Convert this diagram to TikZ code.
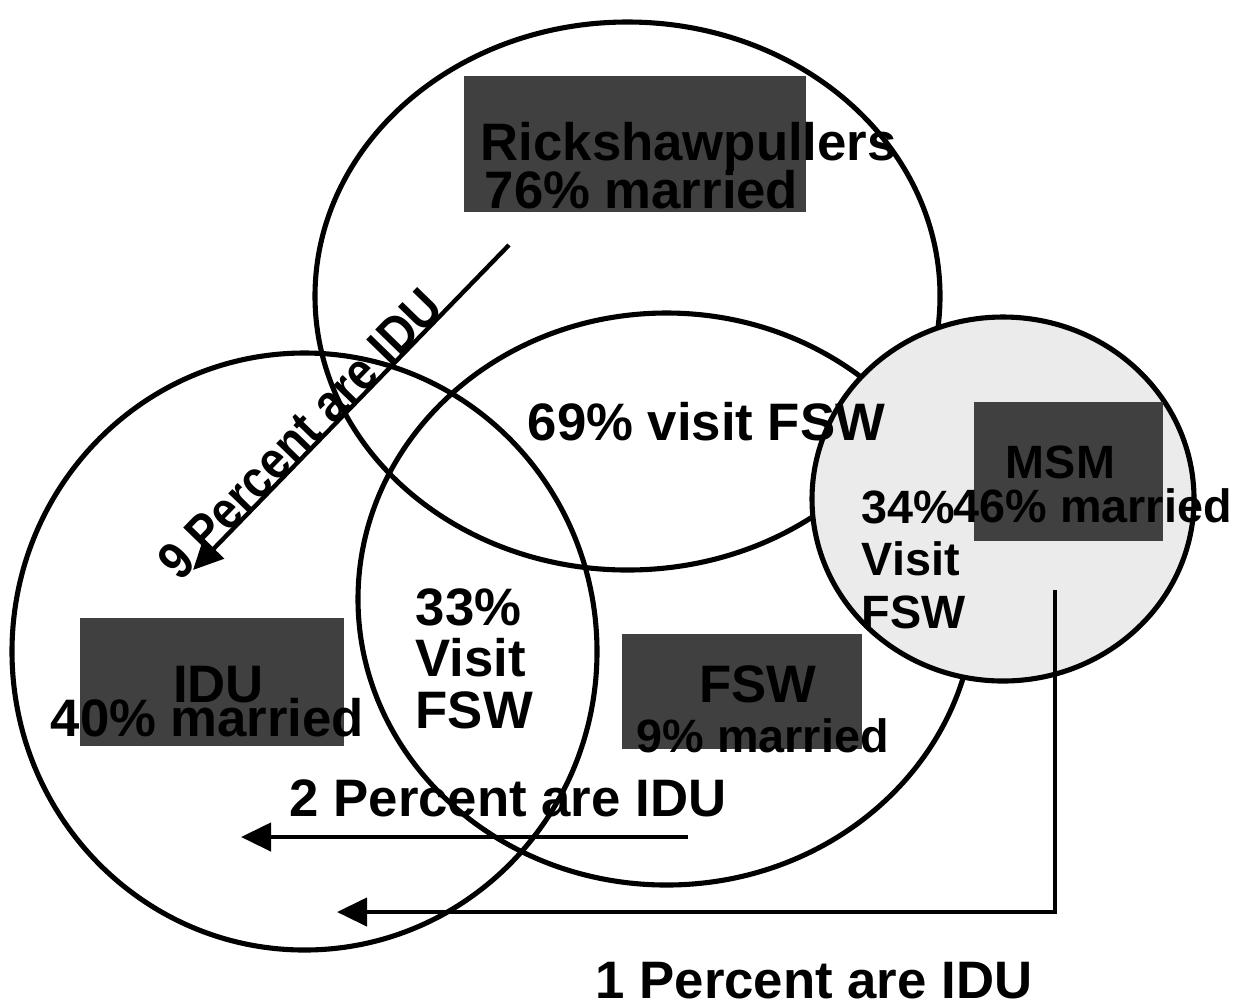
\documentclass[tikz,border=0pt]{standalone}
\usepackage{fontspec}
\setmainfont{Liberation Sans}
\usetikzlibrary{arrows.meta}
\definecolor{BoxGray}{HTML}{404040}
\definecolor{MsmGray}{HTML}{EBEBEB}

\begin{document}
\begin{tikzpicture}[>={Triangle[length=3mm,width=2.8mm]}]
    \tikzstyle{ring}=[draw,line width=1.45pt]
    \tikzstyle{box}=[fill=BoxGray,inner sep=0pt]
    \tikzstyle{txt}=[inner sep=0pt,font=\bfseries\fontsize{15}{14.6}\selectfont]
    \tikzstyle{small}=[inner sep=0pt,font=\bfseries\fontsize{13.3}{14.9}\selectfont]
    \tikzstyle{arr}=[->,line width=1.25pt]
    \useasboundingbox (0,0) rectangle (12.45,-10.04);
    % the four groups
    \draw[ring] (6.275,-2.96) ellipse (3.125 and 2.74);
    \draw[ring] (6.665,-5.99) ellipse (3.085 and 2.86);
    \draw[ring] (3.045,-6.515) ellipse (2.925 and 2.985);
    \draw[ring,fill=MsmGray] (10.03,-4.99) ellipse (1.91 and 1.82);
    % dark label boxes
    \node[box,minimum width=3.42cm,minimum height=1.36cm] (rickbox) at (6.35,-1.44) {};
    \node[box,minimum width=1.89cm,minimum height=1.39cm] (msmbox) at (10.685,-4.715) {};
    \node[box,minimum width=2.64cm,minimum height=1.28cm] (idubox) at (2.12,-6.82) {};
    \node[box,minimum width=2.40cm,minimum height=1.15cm] (fswbox) at (7.42,-6.915) {};
    % texts
    \node[txt,anchor=base west] (rickname) at (4.80,-1.60) {Rickshawpullers};
    \node[txt,anchor=base west] (rickmar) at (4.84,-2.08) {76\% married};
    \node[txt,anchor=base west] (rickfsw) at (5.27,-4.40) {69\% visit FSW};
    \node[small,anchor=base] (msmname) at (10.605,-4.78) {MSM};
    \node[small,anchor=base west] (msmmar) at (9.53,-5.22) {46\% married};
    \node[small,anchor=base west,align=left] (msmfsw) at (8.61,-6.28) {34\%\\Visit\\FSW};
    \node[txt,anchor=base west,align=left] (idufsw) at (4.15,-7.28) {33\%\\Visit\\FSW};
    \node[txt,anchor=base] (iduname) at (2.185,-7.02) {IDU};
    \node[txt,anchor=base west] (idumar) at (0.50,-7.36) {40\% married};
    \node[txt,anchor=base] (fswname) at (7.58,-7.02) {FSW};
    \node[small,anchor=base west] (fswmar) at (6.36,-7.52) {9\% married};
    % IDU arrows
    \coordinate (rickin) at (5.09,-2.45);
    \coordinate (iduup) at (1.93,-5.70);
    \draw[arr] (rickin) -- node[txt,pos=0.62,anchor=base,rotate=45.8] {\scalebox{0.87}[1]{9 Percent are IDU}} (iduup);
    \coordinate (fswin) at (6.88,-8.37);
    \coordinate (idumid) at (2.41,-8.37);
    \draw[arr] (fswin) -- (idumid);
    \node[txt,anchor=base west] (fswidu) at (2.89,-8.16) {2 Percent are IDU};
    \coordinate (msmin) at (10.55,-5.90);
    \coordinate (idulow) at (3.37,-9.12);
    \draw[arr] (msmin) |- (idulow);
    \node[txt,anchor=base west] (msmidu) at (5.95,-9.98) {1 Percent are IDU};
\end{tikzpicture}
\end{document}
